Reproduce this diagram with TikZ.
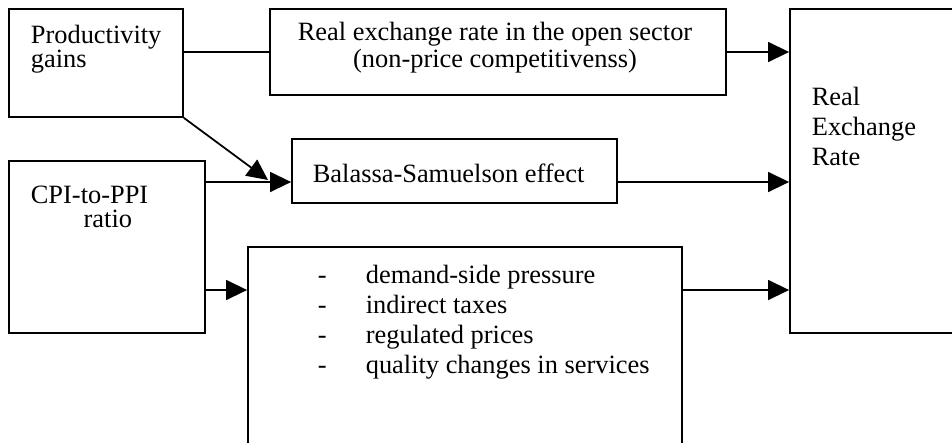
\documentclass[tikz,border=0pt]{standalone}
\usepackage{fontspec}
\setmainfont{Liberation Serif}
\usetikzlibrary{arrows.meta}
\pgfmathsetmacro\u{0.4545}

\begin{document}
\begin{tikzpicture}[
% one unit is one pixel of the scan, y runs downwards
x=\u pt,y=-\u pt,line width=0.8pt,
-{Triangle[length=9.5pt,width=9pt]},
box/.style args={#1/#2}{draw,rectangle,inner sep=0pt,
  minimum width=#1*\u pt,minimum height=#2*\u pt},
% texts sit on the baseline of their last line
txt/.style={inner sep=0pt,align=left,anchor=base west,
  font=\fontsize{12}{10.9}\selectfont},
wide/.style={font=\fontsize{12}{13.6}\selectfont}]

\path[use as bounding box,clip] (0,0) rectangle (952,442);

% boxes
\node[box=174/108] (prod) at (96,63) {};
\node[box=456/86] (open) at (498,52) {};
\node[box=325/64] (bs) at (454.5,171) {};
\node[box=196/172] (cpi) at (107,247) {};
\node[box=168/324] (rer) at (874,171) {};
\node[box=434/200] (lst) at (465,347) {};

% texts
\node[txt] (prodtxt) at (30,67) {Productivity\\gains};
\node[txt,align=center,anchor=base] (opentxt) at (495,67)
  {Real exchange rate in the open sector\\(non-price competitivenss)};
\node[txt] (bstxt) at (312,182) {Balassa-Samuelson effect};
\node[txt] (cpitxt) at (30,227) {CPI-to-PPI\\\hspace*{24pt}ratio};
\node[txt,wide] (rertxt) at (811,165) {Real\\Exchange\\Rate};
\node[txt,wide] (lsttxt) at (317,373) {%
  \makebox[21.8pt][l]{-}demand-side pressure\\
  \makebox[21.8pt][l]{-}indirect taxes\\
  \makebox[21.8pt][l]{-}regulated prices\\
  \makebox[21.8pt][l]{-}quality changes in services};

% rows of the connectors
\coordinate (midrow) at (0,182);
\coordinate (lowrow) at (0,290);
\coordinate (bsin) at (268,180);

\draw[-] (prod.east |- open.west) -- (open.west);
\draw (open.east) -- (open.east -| rer.west);
\draw (prod.south east) -- (bsin);
\draw (cpi.east |- midrow) -- (bs.west |- midrow);
\draw (bs.east |- midrow) -- (rer.west |- midrow);
\draw (cpi.east |- lowrow) -- (lst.west |- lowrow);
\draw (lst.east |- lowrow) -- (rer.west |- lowrow);
\end{tikzpicture}
\end{document}
